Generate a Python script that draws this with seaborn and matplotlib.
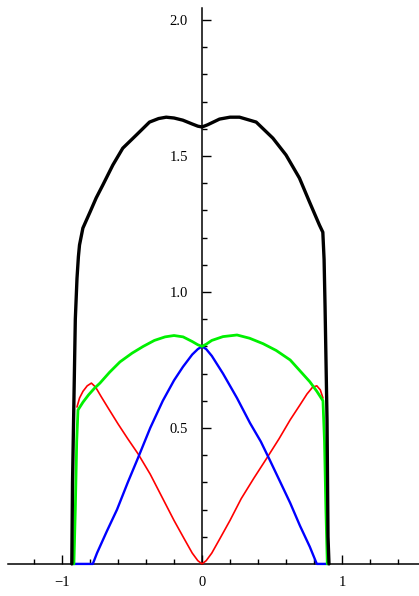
import matplotlib
matplotlib.use("Agg")
import matplotlib.pyplot as plt
import seaborn as sns
import numpy as np
from matplotlib.ticker import FixedLocator, FixedFormatter

sns.set_theme(style="white")
plt.rcParams['font.family'] = ['Liberation Serif', 'DejaVu Sans']

# curves
red_x = [-0.893, -0.875, -0.85, -0.82, -0.79, -0.76, -0.72, -0.67, -0.6, -0.53, -0.457, -0.37,
         -0.28, -0.2, -0.13, -0.07, -0.03, 0.0,
         0.03, 0.07, 0.13, 0.2, 0.28, 0.37, 0.464, 0.55, 0.63, 0.7, 0.75, 0.79, 0.82, 0.845, 0.864]
red_y = [0.577, 0.61, 0.635, 0.655, 0.665, 0.65, 0.615, 0.573, 0.515, 0.46, 0.405, 0.33,
         0.24, 0.16, 0.095, 0.04, 0.012, 0.0,
         0.012, 0.04, 0.095, 0.16, 0.24, 0.315, 0.39, 0.46, 0.53, 0.585, 0.625, 0.65, 0.655, 0.64, 0.61]

blue_x = [-0.93, -0.78, -0.75, -0.68, -0.607, -0.53, -0.457, -0.37, -0.28, -0.2, -0.136, -0.07,
          -0.03, 0.0, 0.03, 0.07, 0.15, 0.25, 0.343, 0.42, 0.486, 0.56, 0.63, 0.7, 0.77, 0.82, 0.9]
blue_y = [0.0, 0.0, 0.04, 0.12, 0.20, 0.30, 0.39, 0.50, 0.60, 0.675, 0.725, 0.77,
          0.79, 0.80, 0.79, 0.765, 0.70, 0.61, 0.518, 0.45, 0.38, 0.30, 0.224, 0.14, 0.063, 0.0, 0.0]

green_x = [-0.915, -0.905, -0.895, -0.886, -0.85, -0.81, -0.77, -0.729, -0.66, -0.586, -0.5, -0.42,
           -0.34, -0.264, -0.2, -0.135, -0.07, -0.03, 0.0, 0.03, 0.07, 0.15, 0.25, 0.34, 0.436,
           0.53, 0.63, 0.7, 0.77, 0.82, 0.864, 0.875, 0.885, 0.895]
green_y = [0.0, 0.2, 0.45, 0.566, 0.595, 0.622, 0.645, 0.665, 0.705, 0.743, 0.775, 0.80,
           0.822, 0.835, 0.84, 0.835, 0.818, 0.806, 0.80, 0.808, 0.822, 0.836, 0.842, 0.83, 0.81,
           0.785, 0.75, 0.71, 0.67, 0.635, 0.60, 0.45, 0.2, 0.0]

black_x = [-0.93, -0.925, -0.915, -0.905, -0.893, -0.883, -0.875, -0.851, -0.80, -0.756, -0.709,
           -0.637, -0.566, -0.47, -0.375, -0.31, -0.256, -0.2, -0.137, -0.07, -0.03, 0.0, 0.04,
           0.125, 0.2, 0.268, 0.387, 0.506, 0.60, 0.696, 0.768, 0.839, 0.863, 0.872, 0.879,
           0.893, 0.9, 0.907]
black_y = [0.0, 0.3, 0.6, 0.9, 1.05, 1.13, 1.173, 1.235, 1.294, 1.346, 1.393,
           1.467, 1.529, 1.577, 1.625, 1.638, 1.643, 1.64, 1.632, 1.618, 1.61, 1.607, 1.615,
           1.636, 1.643, 1.643, 1.625, 1.566, 1.504, 1.419, 1.331, 1.246, 1.22, 1.12, 0.945,
           0.53, 0.1, 0.0]

x_major = [-1, 0, 1]
x_labels = ['\u22121', '0', '1']
x_minor = [-1.2, -0.8, -0.6, -0.4, -0.2, 0.2, 0.4, 0.6, 0.8, 1.2, 1.4]
y_major = [0.5, 1.0, 1.5, 2.0]
y_labels = ['0.5', '1.0', '1.5', '2.0']
y_minor = [0.1, 0.2, 0.3, 0.4, 0.6, 0.7, 0.8, 0.9, 1.1, 1.2, 1.3, 1.4, 1.6, 1.7, 1.8, 1.9]

fig = plt.figure(figsize=(4.19, 5.96), dpi=100)
ax = fig.add_axes([0, 0, 1, 1])

sns.lineplot(x=red_x, y=red_y, sort=False, estimator=None, color='#ff0000', lw=1.2, ax=ax)
sns.lineplot(x=blue_x, y=blue_y, sort=False, estimator=None, color='#0000ff', lw=1.7, ax=ax)
sns.lineplot(x=green_x, y=green_y, sort=False, estimator=None, color='#00f000', lw=2.0, ax=ax)
sns.lineplot(x=black_x, y=black_y, sort=False, estimator=None, color='black', lw=2.4, ax=ax)

ax.set_xlim(-1.443, 1.55)
ax.set_ylim(-0.118, 2.074)

for side in ['top', 'right']:
    ax.spines[side].set_visible(False)
ax.spines['left'].set_position(('data', 0))
ax.spines['bottom'].set_position(('data', 0))
ax.spines['left'].set_bounds(0, 2.044)
ax.spines['bottom'].set_bounds(-1.386, 1.55)
for side in ['left', 'bottom']:
    ax.spines[side].set_color('black')
    ax.spines[side].set_linewidth(1.1)
    ax.spines[side].set_zorder(1)

ax.xaxis.set_major_locator(FixedLocator(x_major))
ax.xaxis.set_major_formatter(FixedFormatter(x_labels))
ax.xaxis.set_minor_locator(FixedLocator(x_minor))
ax.yaxis.set_major_locator(FixedLocator(y_major))
ax.yaxis.set_major_formatter(FixedFormatter(y_labels))
ax.yaxis.set_minor_locator(FixedLocator(y_minor))

ax.tick_params(axis='x', which='both', bottom=True, top=False)
ax.tick_params(axis='y', which='both', left=True, right=False)
ax.tick_params(axis='x', which='major', direction='in', length=6.5, width=1.0, pad=9,
               labelsize=10.5, colors='black')
ax.tick_params(axis='x', which='minor', direction='in', length=3.5, width=1.0, colors='black')
ax.tick_params(axis='y', which='major', direction='in', length=6.5, width=1.0, pad=10,
               labelsize=10.5, colors='black')
ax.tick_params(axis='y', which='minor', direction='in', length=3.5, width=1.0, colors='black')
ax.set_xlabel('')
ax.set_ylabel('')
ax.grid(False)

fig.savefig('out.png', dpi=100)
